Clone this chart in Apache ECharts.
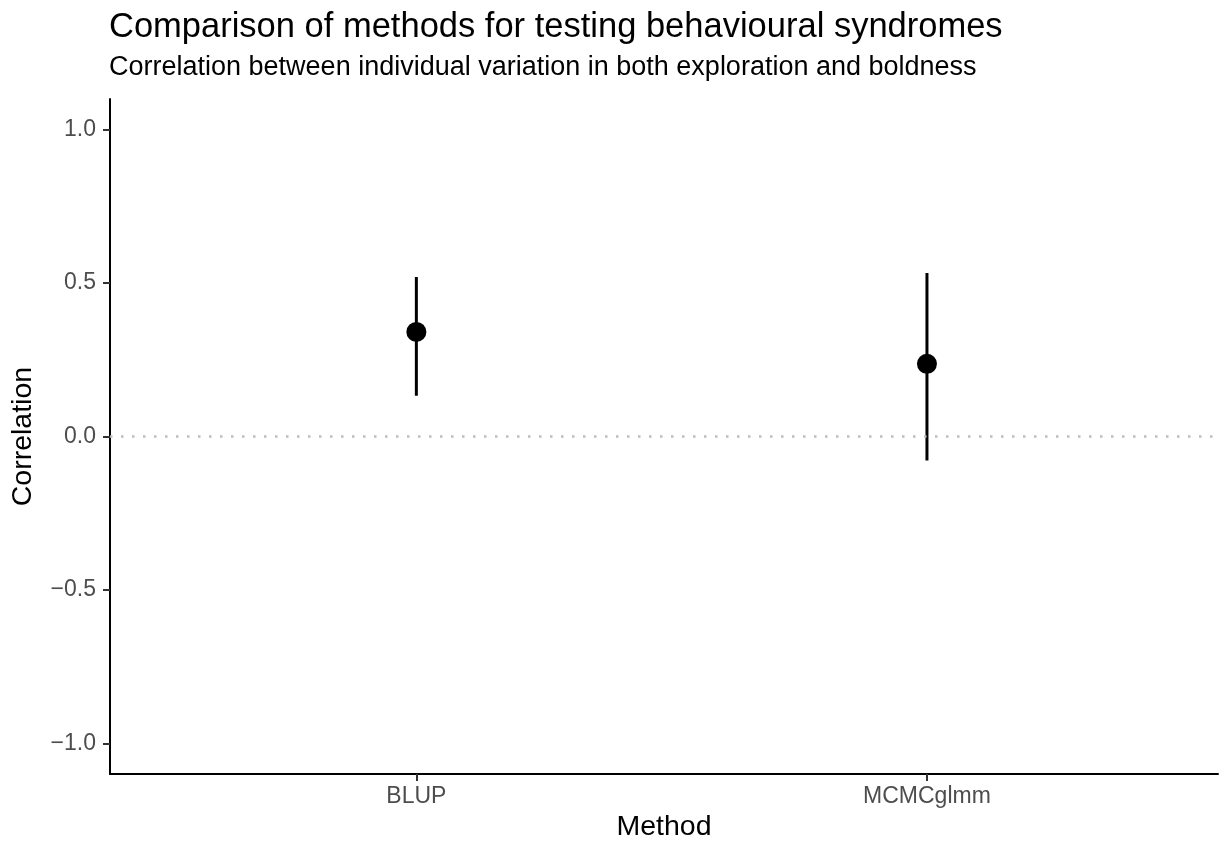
<!DOCTYPE html>
<html>
<head>
<meta charset="utf-8">
<script src="https://cdn.jsdelivr.net/npm/echarts@6/dist/echarts.min.js"></script>
<style>
  html, body { margin: 0; padding: 0; background: #fff; }
  #chart { width: 1226px; height: 847px; }
</style>
</head>
<body>
<div id="chart"></div>
<script>
// data
var methods = ['BLUP', 'MCMCglmm'];
var estimate = [0.341, 0.237];
var lower = [0.133, -0.078];
var upper = [0.520, 0.533];
var yTicks = [-1, -0.5, 0, 0.5, 1];
var xTicks = [1, 2];

var font = 'Liberation Sans';

var pointData = methods.map(function (m, i) { return [i + 1, estimate[i]]; });
var rangeData = methods.map(function (m, i) { return [i + 1, lower[i], upper[i]]; });

var myChart = echarts.init(document.getElementById('chart'));

var option = {
  animation: false,
  backgroundColor: '#fff',
  title: {
    text: 'Comparison of methods for testing behavioural syndromes',
    subtext: 'Correlation between individual variation in both exploration and boldness',
    left: 104,
    top: 5,
    itemGap: 9,
    textStyle: { fontFamily: font, fontSize: 34.5, fontWeight: 'normal', color: '#000' },
    subtextStyle: { fontFamily: font, fontSize: 27, color: '#000' }
  },
  grid: { left: 110, right: 8, top: 99, bottom: 69 },
  xAxis: {
    type: 'value',
    min: 0.4,
    max: 2.57,
    name: 'Method',
    nameLocation: 'middle',
    nameGap: 30,
    nameTextStyle: { fontFamily: font, fontSize: 28.5, color: '#000' },
    splitLine: { show: false },
    axisLine: { onZero: false, lineStyle: { color: '#000', width: 2 } },
    axisTick: { customValues: xTicks, length: 7, lineStyle: { color: '#333', width: 2 } },
    axisLabel: {
      customValues: xTicks,
      margin: 11,
      fontFamily: font,
      fontSize: 23,
      color: '#4d4d4d',
      formatter: function (v) { return methods[Math.round(v) - 1] || ''; }
    }
  },
  yAxis: {
    type: 'value',
    min: -1.1,
    max: 1.1,
    name: 'Correlation',
    nameLocation: 'middle',
    nameGap: 72,
    nameTextStyle: { fontFamily: font, fontSize: 28.5, color: '#000' },
    splitLine: { show: false },
    axisLine: { show: true, onZero: false, lineStyle: { color: '#000', width: 2 } },
    axisTick: { show: true, customValues: yTicks, length: 7, lineStyle: { color: '#333', width: 2 } },
    axisLabel: {
      customValues: yTicks,
      margin: 14,
      fontFamily: font,
      fontSize: 23,
      color: '#4d4d4d',
      formatter: function (v) { return v.toFixed(1).replace('-', '\u2212'); }
    }
  },
  series: [
    {
      type: 'custom',
      data: rangeData,
      silent: true,
      renderItem: function (params, api) {
        var lo = api.coord([api.value(0), api.value(1)]);
        var hi = api.coord([api.value(0), api.value(2)]);
        return {
          type: 'line',
          shape: { x1: lo[0], y1: lo[1], x2: hi[0], y2: hi[1] },
          style: { stroke: '#000', lineWidth: 3 }
        };
      },
      markLine: {
        silent: true,
        symbol: 'none',
        label: { show: false },
        lineStyle: { color: '#bdbdbd', width: 2.5, type: [2.5, 8.5], opacity: 1 },
        data: [{ yAxis: 0 }]
      },
      z: 2
    },
    {
      type: 'scatter',
      data: pointData,
      symbol: 'circle',
      symbolSize: 20,
      itemStyle: { color: '#000', opacity: 1 },
      z: 3
    }
  ]
};

myChart.setOption(option);
</script>
</body>
</html>
